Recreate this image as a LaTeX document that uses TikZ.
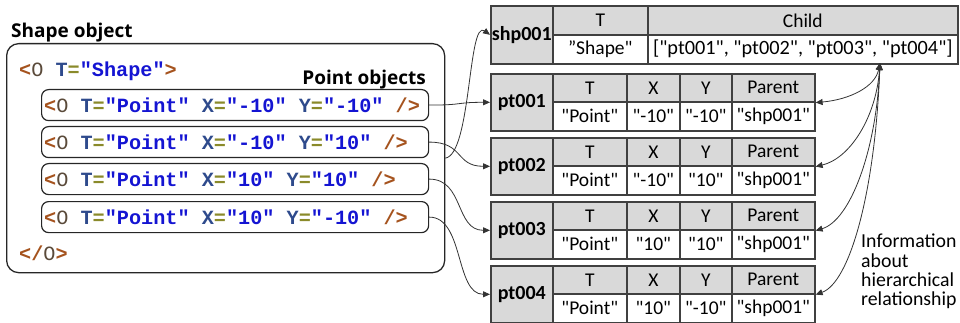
\documentclass[tikz,border=0pt]{standalone}
\usepackage{fontspec}
\setmainfont{Carlito}[Ligatures=TeXOff]
\newfontfamily\codefont{Liberation Mono}[Ligatures=TeXOff]
\newfontfamily\headfont{Open Sans}[Ligatures=TeXOff]
\usetikzlibrary{arrows.meta}
\definecolor{bd}{HTML}{404040}
\definecolor{hdg}{HTML}{D9D9D9}
\definecolor{cbrk}{HTML}{A5531E}
\definecolor{cobj}{HTML}{5A4A3A}
\definecolor{catt}{HTML}{2E4A8C}
\definecolor{ceqs}{HTML}{8A8A2A}
\definecolor{cval}{HTML}{1414D2}
\definecolor{lnk}{HTML}{333333}
\newcommand\xb[1]{\textcolor{cbrk}{#1}}
\newcommand\xo{{\mdseries\textcolor{cobj}{O}}}
\newcommand\xa[1]{\textcolor{catt}{#1}}
\newcommand\xe{\textcolor{ceqs}{=}}
\newcommand\xv[1]{\textcolor{cval}{#1}}
\tikzset{
  cell/.style={draw=bd, line width=1.6pt, inner sep=0pt, anchor=north west},
  hd/.style={cell, fill=hdg, minimum height=28pt, font=\fontsize{19.5}{22}\selectfont},
  vl/.style={cell, fill=white, minimum height=29pt, font=\fontsize{19.5}{22}\selectfont},
  lab/.style={cell, fill=hdg, minimum width=62pt, minimum height=57pt, font=\bfseries\fontsize{20}{22}\selectfont},
  pbox/.style={draw=black!85, line width=1.2pt, rounded corners=7pt, anchor=north west, inner sep=0pt, minimum width=387pt, minimum height=31pt},
  code/.style={anchor=west, inner sep=0pt, font=\codefont\bfseries\fontsize{20.2}{22}\selectfont},
  ttl/.style={inner sep=0pt, font=\headfont\bfseries\fontsize{19}{22}\selectfont},
  link/.style={draw=lnk, line width=0.8pt, -{Triangle[length=7pt,width=6pt]}},
  dlink/.style={draw=lnk, line width=0.8pt, {Triangle[length=7pt,width=6pt]}-{Triangle[length=7pt,width=6pt]}}
}
\newcommand\mkptab[6]{%
  \node[lab, minimum height=57pt] (#1lab) at (490,#2) {#3};
  \node[hd, minimum width=74pt] (#1hT) at (552,#2) {T};
  \node[hd, minimum width=53pt] (#1hX) at (626,#2) {X};
  \node[hd, minimum width=52pt] (#1hY) at (679,#2) {Y};
  \node[hd, minimum width=83pt] (#1hP) at (731,#2) {Parent};
  \node[vl, minimum width=74pt] (#1vT) at (552,#2+28) {#4};
  \node[vl, minimum width=53pt] (#1vX) at (626,#2+28) {#5};
  \node[vl, minimum width=52pt] (#1vY) at (679,#2+28) {#6};
  \node[vl, minimum width=83pt] (#1vP) at (731,#2+28) {"shp001"};
}
\begin{document}
\begin{tikzpicture}[x=1pt,y=-1pt]
\useasboundingbox (0,0) rectangle (960,323);
% left panel
\node[ttl, anchor=base west] (shapettl) at (11,38) {Shape object};
\node[draw=black!85, line width=1.3pt, rounded corners=12pt, anchor=north west, inner sep=0pt, minimum width=438pt, minimum height=229pt] (shapebox) at (6,43) {};
\node[code, anchor=west] (open) at (19,71) {\xb{<}\xo{} \xa{T}\xe\xv{"Shape"}\xb{>}};
\node[ttl, anchor=base east] (ptttl) at (426,85) {Point objects};
\node[pbox] (pb1) at (41,89) {};
\node[pbox] (pb2) at (41,126) {};
\node[pbox] (pb3) at (41,163) {};
\node[pbox] (pb4) at (41,201) {};
\node[code] (l1) at ([xshift=3pt]pb1.west) {\xb{<}\xo{} \xa{T}\xe\xv{"Point"} \xa{X}\xe\xv{"-10"} \xa{Y}\xe\xv{"-10"} \xb{/>}};
\node[code] (l2) at ([xshift=3pt]pb2.west) {\xb{<}\xo{} \xa{T}\xe\xv{"Point"} \xa{X}\xe\xv{"-10"} \xa{Y}\xe\xv{"10"} \xb{/>}};
\node[code] (l3) at ([xshift=3pt]pb3.west) {\xb{<}\xo{} \xa{T}\xe\xv{"Point"} \xa{X}\xe\xv{"10"} \xa{Y}\xe\xv{"10"} \xb{/>}};
\node[code] (l4) at ([xshift=3pt]pb4.west) {\xb{<}\xo{} \xa{T}\xe\xv{"Point"} \xa{X}\xe\xv{"10"} \xa{Y}\xe\xv{"-10"} \xb{/>}};
\node[code, anchor=west] (close) at (19,253) {\xb{</}\xo\xb{>}};
% shape table
\node[lab, minimum height=58pt] (t0lab) at (490,5) {shp001};
\node[hd, minimum width=95pt, minimum height=29pt] (t0hT) at (552,5) {T};
\node[hd, minimum width=310pt, minimum height=29pt] (t0hC) at (647,5) {Child};
\node[vl, minimum width=95pt] (t0vT) at (552,34) {”Shape"};
\node[vl, minimum width=310pt, font=\fontsize{20.3}{22}\selectfont] (t0vC) at (647,34) {["pt001", "pt002", "pt003", "pt004"]};
% point tables
\mkptab{t1}{73}{pt001}{"Point"}{"-10"}{"-10"}
\mkptab{t2}{137}{pt002}{"Point"}{"-10"}{"10"}
\mkptab{t3}{201}{pt003}{"Point"}{"10"}{"10"}
\mkptab{t4}{265}{pt004}{"Point"}{"10"}{"-10"}
% info text
\node[anchor=north west, inner sep=0pt, align=left, font=\fontsize{19.8}{19.3}\selectfont] (info) at (861,234) {Information\\about\\hierarchical\\relationship};
% left connectors
\draw[link] (pb1.east) .. controls +(35,0) and +(-35,0) .. (t1lab.west);
\draw[link] (pb2.east) .. controls +(35,0) and +(-35,0) .. (t2lab.west);
\draw[link] (pb3.east) .. controls +(35,0) and +(-35,0) .. (t3lab.west);
\draw[link] (pb4.east) .. controls +(35,0) and +(-35,0) .. (t4lab.west);
\draw[link] (shapebox.east) .. controls +(26,-4) and +(-22,-16) .. (t0lab.west);
% right connectors
\coordinate (hub) at (880,63);
\draw[dlink] (hub) .. controls +(-5,24) and +(34,-3) .. (t1hP.south east);
\draw[dlink] (hub) .. controls +(-4,55) and +(34,-8) .. (t2hP.south east);
\draw[dlink] (hub) .. controls +(-4,90) and +(34,-10) .. (t3hP.south east);
\draw[dlink] (hub) .. controls +(-5,130) and +(34,-12) .. (t4hP.south east);
\end{tikzpicture}
\end{document}
